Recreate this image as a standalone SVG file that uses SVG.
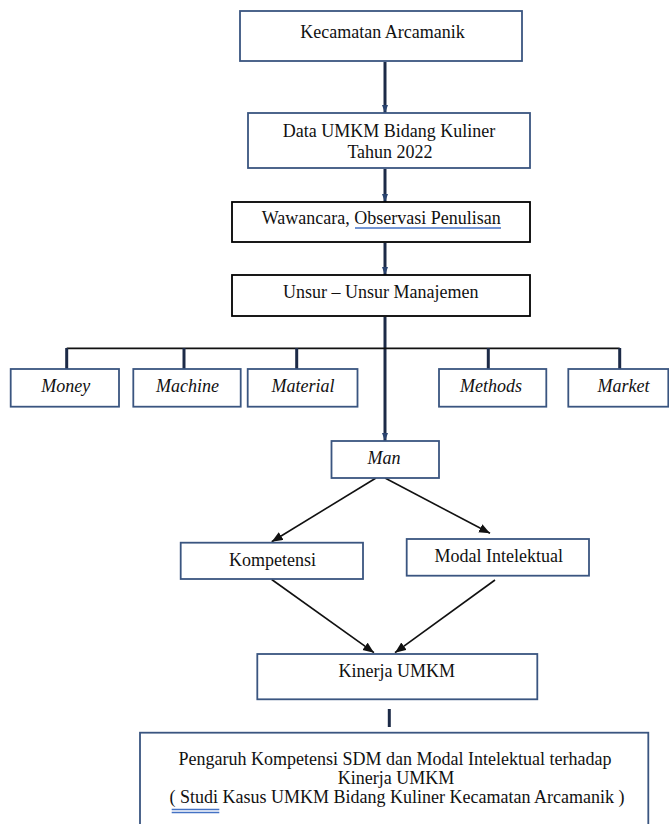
<svg xmlns="http://www.w3.org/2000/svg" width="669" height="824" viewBox="0 0 669 824">
<style>
  .bx { fill: #ffffff; stroke: #3a5580; stroke-width: 1.8; }
  .bk { fill: #ffffff; stroke: #000000; stroke-width: 1.8; }
  .t { font-size: 18px; fill: #111111; text-anchor: middle; }
  .it { font-style: italic; }
  .thick { stroke: #1c2a47; stroke-width: 3; fill: none; }
  .thin { stroke: #111111; stroke-width: 1.6; fill: none; }
  .hline { stroke: #111111; stroke-width: 1.8; fill: none; }
  .ul { stroke: #4472c4; stroke-width: 1.4; fill: none; }
</style>
<defs>
  <marker id="ah" markerUnits="userSpaceOnUse" markerWidth="12" markerHeight="10" refX="11" refY="4.5" orient="auto">
    <path d="M0,0 L11,4.5 L0,9 z" fill="#111111"/>
  </marker>
  <marker id="ahs" markerUnits="userSpaceOnUse" markerWidth="9" markerHeight="7" refX="8" refY="3.5" orient="auto">
    <path d="M0,0.5 L8,3.5 L0,6.5 z" fill="#2a4470"/>
  </marker>
</defs>

<g id="connectors">
  <line class="thick" x1="385" y1="62" x2="385" y2="113" marker-end="url(#ahs)"/>
  <line class="thick" x1="385" y1="169" x2="385" y2="202" marker-end="url(#ahs)"/>
  <line class="thick" x1="385" y1="243" x2="385" y2="275" marker-end="url(#ahs)"/>
  <line class="thick" x1="385" y1="317" x2="385" y2="441" marker-end="url(#ahs)"/>
  <line class="hline" x1="66.7" y1="348.3" x2="619.7" y2="348.3"/>
  <line class="thick" x1="66.7" y1="348" x2="66.7" y2="369"/>
  <line class="thick" x1="184" y1="348" x2="184" y2="369"/>
  <line class="thick" x1="296.7" y1="348" x2="296.7" y2="369"/>
  <line class="thick" x1="488.3" y1="348" x2="488.3" y2="369"/>
  <line class="thick" x1="619.7" y1="348" x2="619.7" y2="369"/>
  <line class="thin" x1="376" y1="478" x2="271.7" y2="541.7" marker-end="url(#ah)"/>
  <line class="thin" x1="385" y1="478" x2="490" y2="533.3" marker-end="url(#ah)"/>
  <line class="thin" x1="271.7" y1="579.5" x2="374" y2="652.7" marker-end="url(#ah)"/>
  <line class="thin" x1="495" y1="580" x2="395" y2="652.7" marker-end="url(#ah)"/>
  <line class="thick" x1="389.3" y1="709" x2="389.3" y2="727"/>
</g>

<g font-family="Liberation Serif, Times New Roman, serif">
<g id="kecamatan">
  <rect class="bx" x="240" y="11" width="282" height="50"/>
  <text class="t" x="382.5" y="37.5">Kecamatan Arcamanik</text>
</g>
<g id="data-umkm">
  <rect class="bx" x="248" y="113" width="282" height="55"/>
  <text class="t" x="389" y="136.7">Data UMKM Bidang Kuliner</text>
  <text class="t" x="390" y="157.7">Tahun 2022</text>
</g>
<g id="wawancara">
  <rect class="bk" x="232" y="202" width="298" height="40"/>
  <text class="t" x="381.3" y="224">Wawancara, Observasi Penulisan</text>
  <line class="ul" x1="355" y1="228" x2="501" y2="228"/>
</g>
<g id="unsur">
  <rect class="bk" x="232" y="275" width="298" height="41"/>
  <text class="t" x="380.8" y="298.3">Unsur – Unsur Manajemen</text>
</g>
<g id="money">
  <rect class="bx" x="10.7" y="369" width="108.3" height="37.7"/>
  <text class="t it" x="65.8" y="392">Money</text>
</g>
<g id="machine">
  <rect class="bx" x="133.3" y="369" width="107.4" height="37.7"/>
  <text class="t it" x="187.5" y="392">Machine</text>
</g>
<g id="material">
  <rect class="bx" x="247.7" y="369" width="109.8" height="37.7"/>
  <text class="t it" x="303" y="392">Material</text>
</g>
<g id="methods">
  <rect class="bx" x="439" y="369" width="107.3" height="37.7"/>
  <text class="t it" x="491" y="392">Methods</text>
</g>
<g id="market">
  <rect class="bx" x="568.3" y="369" width="100" height="37.7"/>
  <text class="t it" x="623.5" y="392">Market</text>
</g>
<g id="man">
  <rect class="bx" x="331.5" y="441" width="107.5" height="37"/>
  <text class="t it" x="384" y="464">Man</text>
</g>
<g id="kompetensi">
  <rect class="bx" x="180.7" y="542.7" width="182.3" height="36.3"/>
  <text class="t" x="272.5" y="565.7">Kompetensi</text>
</g>
<g id="modal-intelektual">
  <rect class="bx" x="406.7" y="539" width="182.3" height="36.7"/>
  <text class="t" x="498.8" y="562.3">Modal Intelektual</text>
</g>
<g id="kinerja">
  <rect class="bx" x="257.3" y="654" width="280" height="45.3"/>
  <text class="t" x="396.7" y="677.3">Kinerja UMKM</text>
</g>
<g id="pengaruh">
  <rect class="bx" x="140" y="732.7" width="508.3" height="100"/>
  <text class="t" x="395" y="765">Pengaruh Kompetensi SDM dan Modal Intelektual terhadap</text>
  <text class="t" x="396" y="784">Kinerja UMKM</text>
  <text class="t" x="397" y="803">( Studi Kasus UMKM Bidang Kuliner Kecamatan Arcamanik )</text>
  <line class="ul" x1="171.7" y1="809.5" x2="219.3" y2="809.5"/>
  <line class="ul" x1="171.7" y1="812.5" x2="219.3" y2="812.5"/>
</g>
</g>
</svg>
